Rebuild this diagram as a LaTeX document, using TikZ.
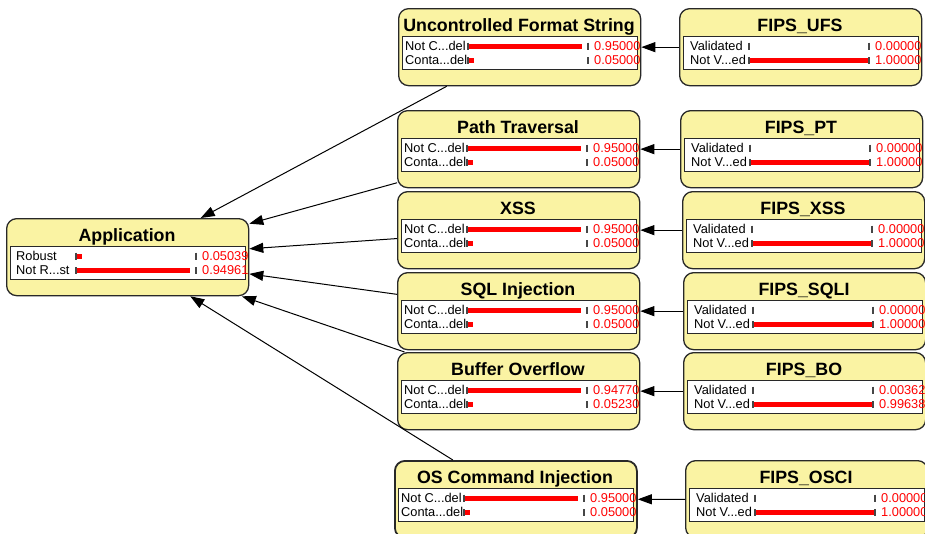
\documentclass[tikz,border=0pt]{standalone}
\usepackage{fontspec}
\setmainfont{Liberation Sans}
\usetikzlibrary{arrows.meta}
\definecolor{bnyellow}{RGB}{250,243,163}
\definecolor{bnedge}{RGB}{40,40,40}
\definecolor{bnmark}{RGB}{70,70,70}
\tikzset{
  bnbox/.style={draw=bnedge, line width=1.3pt, fill=bnyellow, rounded corners=10pt,
    minimum width=242pt, minimum height=77pt, anchor=north west, inner sep=0pt},
  bninner/.style={draw=bnedge, line width=1pt, fill=white, minimum width=235pt,
    minimum height=33.5pt, anchor=north west, inner sep=0pt},
  bntitle/.style={font=\fontsize{17.8}{20}\selectfont\bfseries, anchor=base, inner sep=0pt},
  bnlabel/.style={font=\fontsize{12.8}{14}\selectfont, anchor=base west, inner sep=0pt},
  bnvalue/.style={bnlabel, text=red},
  bntick/.style={draw=bnmark, line width=1.6pt},
  bnlink/.style={draw=black, line width=1pt, -{Triangle[length=14pt,width=10pt]}},
}
% #1 node, #2 title, #3 label offset, #4/#5 first state and belief, #6/#7 second state and belief
\newcommand\bnstates[7]{%
  \begin{scope}[shift={(#1.north west)}]
    \node[bntitle] (#1-title) at (121,23.5) {#2};
    \node[bninner] (#1-inner) at (4,27.5) {};
    \node[bnlabel] (#1-s1) at (#3,42) {#4};
    \node[bnlabel] (#1-s2) at (#3,56.5) {#6};
    \pgfmathsetmacro\bnbarA{70+120*#5}
    \pgfmathsetmacro\bnbarB{70+120*#7}
    \fill[red] (70,35.5) rectangle (\bnbarA,40.5);
    \fill[red] (70,50) rectangle (\bnbarB,55);
    \foreach \tx in {70,190} {
      \draw[bntick] (\tx,34.5) -- (\tx,41.5);
      \draw[bntick] (\tx,49) -- (\tx,56);
    }
    \node[bnvalue] (#1-v1) at (196,42) {#5};
    \node[bnvalue] (#1-v2) at (196,56.5) {#7};
  \end{scope}}
\begin{document}
\begin{tikzpicture}[x=1pt, y=-1pt]
  \useasboundingbox (0,0) rectangle (925,533);
  \clip (0,0) rectangle (925,533);
  \fill[white] (0,0) rectangle (925,533);

  % network nodes
  \node[bnbox] (app) at (6,218) {};
  \node[bnbox] (ufs) at (398,8) {};
  \node[bnbox] (pt) at (397,110) {};
  \node[bnbox] (xss) at (397,191) {};
  \node[bnbox] (sqli) at (397,272) {};
  \node[bnbox] (bo) at (397,352) {};
  \node[bnbox, line width=1.8pt] (osci) at (394,460) {};
  \node[bnbox] (fufs) at (679,8) {};
  \node[bnbox] (fpt) at (680,110) {};
  \node[bnbox] (fxss) at (682,191) {};
  \node[bnbox] (fsqli) at (683,272) {};
  \node[bnbox] (fbo) at (683,352) {};
  \node[bnbox] (fosci) at (685,460) {};

  % state tables
  \bnstates{app}{Application}{10}{Robust}{0.05039}{Not R...st}{0.94961}
  \bnstates{ufs}{Uncontrolled Format String}{7}{Not C...del}{0.95000}{Conta...del}{0.05000}
  \bnstates{pt}{Path Traversal}{7}{Not C...del}{0.95000}{Conta...del}{0.05000}
  \bnstates{xss}{XSS}{7}{Not C...del}{0.95000}{Conta...del}{0.05000}
  \bnstates{sqli}{SQL Injection}{7}{Not C...del}{0.95000}{Conta...del}{0.05000}
  \bnstates{bo}{Buffer Overflow}{7}{Not C...del}{0.94770}{Conta...del}{0.05230}
  \bnstates{osci}{OS Command Injection}{7}{Not C...del}{0.95000}{Conta...del}{0.05000}
  \bnstates{fufs}{FIPS\_UFS}{11}{Validated}{0.00000}{Not V...ed}{1.00000}
  \bnstates{fpt}{FIPS\_PT}{11}{Validated}{0.00000}{Not V...ed}{1.00000}
  \bnstates{fxss}{FIPS\_XSS}{11}{Validated}{0.00000}{Not V...ed}{1.00000}
  \bnstates{fsqli}{FIPS\_SQLI}{11}{Validated}{0.00000}{Not V...ed}{1.00000}
  \bnstates{fbo}{FIPS\_BO}{11}{Validated}{0.00362}{Not V...ed}{0.99638}
  \bnstates{fosci}{FIPS\_OSCI}{11}{Validated}{0.00000}{Not V...ed}{1.00000}

  % dependencies
  \foreach \a/\b in {fufs/ufs, fpt/pt, fxss/xss, fsqli/sqli, fbo/bo, fosci/osci,
                     ufs/app, pt/app, xss/app, sqli/app, bo/app, osci/app}
    \draw[bnlink] (\a) -- (\b);
\end{tikzpicture}
\end{document}
